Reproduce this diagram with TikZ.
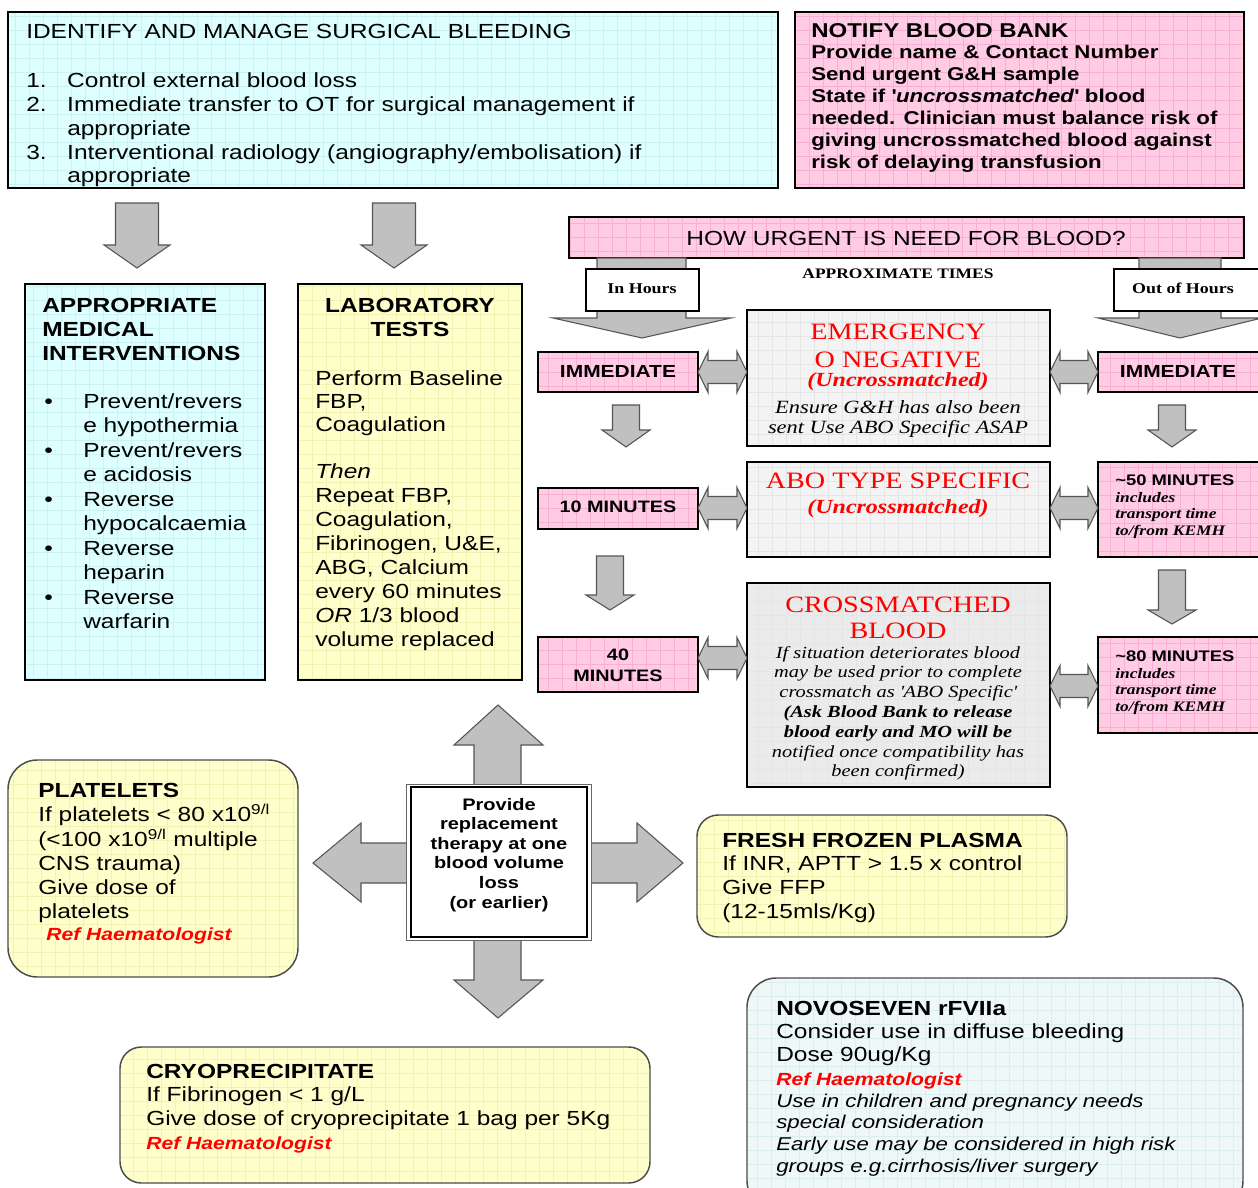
\documentclass[tikz,border=0pt]{standalone}
\usepackage{fontspec}
\setmainfont{Liberation Sans}[FakeStretch=1.2]
\newfontfamily\serif{Liberation Serif}[FakeStretch=1.2]
\usetikzlibrary{calc}
\definecolor{cyanf}{HTML}{DDFFFF}\definecolor{cyang}{HTML}{CBF1F1}
\definecolor{pinkf}{HTML}{FFCCE4}\definecolor{pinkg}{HTML}{F7B0D4}
\definecolor{yelf}{HTML}{FFFFCC}\definecolor{yelg}{HTML}{F2F2B4}
\definecolor{grayf}{HTML}{F3F3F3}\definecolor{grayg}{HTML}{E5E5E5}
\definecolor{gray2f}{HTML}{EBEBEB}
\definecolor{novof}{HTML}{EEF8F8}\definecolor{novog}{HTML}{DCEDED}
\definecolor{arrf}{HTML}{C0C0C0}\definecolor{arrd}{HTML}{555555}
\definecolor{rd}{HTML}{FF0000}
\newcommand\fs[2]{\fontsize{#1pt}{#2pt}\selectfont}
\newcommand\tl[1]{\begin{tabular}[t]{@{}l@{}}#1\end{tabular}}
\newcommand\tc[1]{\begin{tabular}[t]{@{}c@{}}#1\end{tabular}}
\newcommand\pbox[6]{\node[#6, minimum width={(#4-#2)*0.75pt}, minimum height={(#5-#3)*0.75pt}] (#1) at ({(#2+#4)/2},{(#3+#5)/2}) {};}
\newcommand\dnarrow[6]{\draw[blk] ({#1-#5},#2) -- ({#1-#5},#3) -- ({#1-#6},#3) -- (#1,#4) -- ({#1+#6},#3) -- ({#1+#5},#3) -- ({#1+#5},#2) -- cycle;}
\newcommand\dblarrow[3]{%
  \coordinate (da) at (#1.east |- 0,#3);
  \coordinate (db) at (#2.west |- 0,#3);
  \draw[blk] (da) -- ++(10,-20.5) -- ++(0,9) -- ($(db)+(-10,-11.5)$) -- ++(0,-9) -- (db) -- ++(-10,20.5) -- ++(0,-9) -- ($(da)+(10,11.5)$) -- ++(0,9) -- cycle;}
\tikzset{
  gridded/.style={path picture={\draw[#1, line width=0.4pt] ([shift={(-30pt,-30pt)}]path picture bounding box.south west) grid[step=10.5pt] ([shift={(30pt,30pt)}]path picture bounding box.north east);}},
  sq/.style={rectangle, draw=black, line width=1.1pt, inner sep=0pt, outer sep=0pt},
  cyanbox/.style={sq, fill=cyanf, gridded=cyang},
  pinkbox/.style={sq, fill=pinkf, gridded=pinkg},
  yelbox/.style={sq, fill=yelf, gridded=yelg},
  graybox/.style={sq, fill=grayf, gridded=grayg},
  gray2box/.style={sq, fill=gray2f, gridded=grayg},
  whitebox/.style={sq, fill=white},
  rbox/.style={rectangle, draw=black!70, line width=1.1pt, inner sep=0pt, outer sep=0pt},
  ryel/.style={rbox, fill=yelf, gridded=yelg, rounded corners=#1},
  rnovo/.style={rbox, fill=novof, gridded=novog, rounded corners=22pt},
  blk/.style={fill=arrf, draw=arrd, line width=0.8pt, line join=miter},
  txt/.style={inner sep=0pt, anchor=base west},
  ctxt/.style={inner sep=0pt, anchor=base},
}
\begin{document}
\begin{tikzpicture}[x=0.75pt, y=-0.75pt]
\useasboundingbox (0,0) rectangle (1258,1188);
\clip (0,0) rectangle (1258,1188);
\fill[white] (0,0) rectangle (1258,1188);

% top boxes
\pbox{b1}{8}{12}{778}{188}{cyanbox}
\pbox{b2}{795}{12}{1244}{188}{pinkbox}
% arrows from b1
\dnarrow{137}{203}{245}{268}{21.5}{33}
\dnarrow{394}{203}{245}{268}{21.5}{33}
% left boxes
\pbox{b3}{25}{284}{265}{680}{cyanbox}
\pbox{b4}{298}{284}{522}{680}{yelbox}

% urgency bar and hours arrows
\pbox{bar}{569}{217}{1244}{258}{pinkbox}
\draw[blk] (597,258) -- (597,318) -- (553,318) -- (642,338) -- (731,318) -- (686,318) -- (686,258) -- cycle;
\draw[blk] (1139,258) -- (1139,318) -- (1098,318) -- (1180,338) -- (1262,318) -- (1221,318) -- (1221,258) -- cycle;
\pbox{inh}{586}{269}{699}{311}{whitebox}
\pbox{outh}{1114}{269}{1262}{311}{whitebox}

% time boxes
\pbox{imm1}{538}{352}{698}{392}{pinkbox}
\pbox{emerg}{747}{310}{1050}{446}{graybox}
\pbox{imm2}{1098}{352}{1262}{392}{pinkbox}
\pbox{min10}{538}{488}{698}{529}{pinkbox}
\pbox{abo}{747}{462}{1050}{557}{graybox}
\pbox{min50}{1098}{462}{1262}{557}{pinkbox}
\pbox{min40}{538}{637}{698}{692}{pinkbox}
\pbox{cross}{747}{583}{1050}{787}{gray2box}
\pbox{min80}{1098}{637}{1262}{733}{pinkbox}

\dblarrow{imm1}{emerg}{372}
\dblarrow{emerg}{imm2}{372}
\dblarrow{min10}{abo}{508}
\dblarrow{abo}{min50}{508}
\dblarrow{min40}{cross}{658}
\dblarrow{cross}{min80}{686}

\dnarrow{626}{405}{430}{447}{13.5}{24}
\dnarrow{610}{556}{595}{610}{13.5}{24}
\dnarrow{1172}{405}{430}{447}{13.5}{24}
\dnarrow{1172}{570}{610}{624}{13.5}{24}

% centre four-way arrow
\draw[blk] (474,800) -- (474,745) -- (454,745) -- (498,705) -- (543,745) -- (521,745) -- (521,800) -- cycle;
\draw[blk] (474,920) -- (474,980) -- (454,980) -- (498,1018) -- (543,980) -- (521,980) -- (521,920) -- cycle;
\draw[blk] (430,843) -- (361,843) -- (361,823) -- (313,863) -- (361,902) -- (361,883) -- (430,883) -- cycle;
\draw[blk] (570,843) -- (637,843) -- (637,823) -- (683,863) -- (637,902) -- (637,883) -- (570,883) -- cycle;
\pbox{cboxo}{406}{784}{591}{940}{rectangle, draw=black!60, line width=0.6pt, fill=white, inner sep=0pt, outer sep=0pt}
\pbox{cbox}{411}{787}{587}{937}{rectangle, draw=black, line width=1.8pt, inner sep=0pt, outer sep=0pt}

% rounded boxes
\pbox{plt}{8}{760}{298}{977}{ryel=22pt}
\pbox{ffp}{697}{815}{1067}{937}{ryel=16pt}
\pbox{novo}{747}{978}{1243}{1210}{rnovo}
\pbox{cryo}{120}{1047}{650}{1183}{ryel=16pt}

% ---- texts ----
\node[txt, font=\fs{15.3}{18}] (t1) at (26,39) {IDENTIFY AND MANAGE SURGICAL BLEEDING};
\node[txt, font=\fs{15.3}{17.8}] (t1l) at (26,88) {\begin{tabular}[t]{@{}p{30.75pt}@{}l@{}}1. & Control external blood loss\\ 2. & Immediate transfer to OT for surgical management if\\ & appropriate\\ 3. & Interventional radiology (angiography/embolisation) if\\ & appropriate\end{tabular}};

\node[txt, font=\bfseries\fs{15}{18}] (t2) at (811,38) {NOTIFY BLOOD BANK};
\node[txt, font=\bfseries\fs{13.9}{16.4}] (t2b) at (811,59) {\tl{Provide name \& Contact Number\\ Send urgent G\&H sample\\ State if \textquotesingle\textit{uncrossmatched}\textquotesingle{} blood\\ needed. Clinician must balance risk of\\ giving uncrossmatched blood against\\ risk of delaying transfusion}};

\node[txt, font=\bfseries\fs{15.3}{18}] (t3) at (42,312) {\tl{APPROPRIATE\\MEDICAL\\INTERVENTIONS}};
\node[txt, font=\fs{15.3}{18.4}] (t3b) at (44,408) {\begin{tabular}[t]{@{}p{29.25pt}@{}l@{}}\textbullet & Prevent/revers\\ & e hypothermia\\ \textbullet & Prevent/revers\\ & e acidosis\\ \textbullet & Reverse\\ & hypocalcaemia\\ \textbullet & Reverse\\ & heparin\\ \textbullet & Reverse\\ & warfarin\end{tabular}};

\node[ctxt, font=\bfseries\fs{15.3}{18}] (t4) at (410,312) {\tc{LABORATORY\\TESTS}};
\node[txt, font=\fs{15.3}{17.6}] (t4a) at (315,385) {\tl{Perform Baseline\\FBP,\\Coagulation}};
\node[txt, font=\fs{15.3}{18}] (t4b) at (315,478) {\tl{\textit{Then}\\Repeat FBP,\\Coagulation,\\Fibrinogen, U\&E,\\ABG, Calcium\\every 60 minutes\\\textit{OR} 1/3 blood\\volume replaced}};

\node[ctxt, font=\fs{15.3}{18}] (tq) at (906,245) {HOW URGENT IS NEED FOR BLOOD?};
\node[ctxt, font=\serif\bfseries\fs{10.9}{13}] (tat) at (898,278) {APPROXIMATE TIMES};
\node[ctxt, font=\serif\bfseries\fs{11.2}{13}] (tih) at (642,293) {In Hours};
\node[ctxt, font=\serif\bfseries\fs{11.2}{13}] (toh) at (1183,293) {Out of Hours};

\node[ctxt, font=\bfseries\fs{13.1}{15}] (ti1) at (618,377) {IMMEDIATE};
\node[ctxt, font=\bfseries\fs{13.1}{15}] (ti2) at (1178,377) {IMMEDIATE};
\node[ctxt, text=rd, font=\serif\fs{17.6}{21}] (te) at (898,339) {\tc{EMERGENCY\\O NEGATIVE}};
\node[ctxt, text=rd, font=\serif\bfseries\itshape\fs{15}{18}] (teu) at (898,386) {(Uncrossmatched)};
\node[ctxt, font=\serif\itshape\fs{14}{15}] (tee) at (898,413) {\tc{Ensure G\&H has also been\\sent Use ABO Specific ASAP}};

\node[ctxt, font=\bfseries\fs{12.4}{15}] (tm10) at (618,512) {10 MINUTES};
\node[ctxt, text=rd, font=\serif\fs{17.6}{21}] (tabo) at (898,488) {ABO TYPE SPECIFIC};
\node[ctxt, text=rd, font=\serif\bfseries\itshape\fs{15}{18}] (tabou) at (898,513) {(Uncrossmatched)};
\node[txt, font=\bfseries\fs{11.5}{13}] (tm50) at (1115,485) {\textasciitilde 50 MINUTES};
\node[txt, font=\serif\bfseries\itshape\fs{10.9}{12.4}] (tm50b) at (1115,502) {\tl{includes\\transport time\\to/from KEMH}};

\node[ctxt, font=\bfseries\fs{12.4}{15.75}] (tm40) at (618,660) {\tc{40\\MINUTES}};
\node[ctxt, text=rd, font=\serif\fs{17.6}{19.5}] (tcr) at (898,612) {\tc{CROSSMATCHED\\BLOOD}};
\node[ctxt, font=\serif\itshape\fs{12.75}{14.85}] (tcrb) at (898,658) {\tc{If situation deteriorates blood\\may be used prior to complete\\crossmatch as \textquotesingle ABO Specific\textquotesingle\\\textbf{(Ask Blood Bank to release}\\\textbf{blood early and MO will be}\\notified once compatibility has\\been confirmed)}};
\node[txt, font=\bfseries\fs{11.5}{13}] (tm80) at (1115,661) {\textasciitilde 80 MINUTES};
\node[txt, font=\serif\bfseries\itshape\fs{10.9}{12.4}] (tm80b) at (1115,678) {\tl{includes\\transport time\\to/from KEMH}};

\node[ctxt, font=\bfseries\fs{12.5}{14.7}] (tc) at (499,810) {\tc{Provide\\replacement\\therapy at one\\blood volume\\loss\\(or earlier)}};

\node[txt, font=\fs{15.3}{18}] (tp) at (38,797) {\tl{\textbf{PLATELETS}\\If platelets < 80 x10\textsuperscript{9/l}\\(<100 x10\textsuperscript{9/l} multiple\\CNS trauma)\\Give dose of\\platelets}};
\node[txt, text=rd, font=\bfseries\itshape\fs{13.2}{16}] (tpr) at (46,940) {Ref Haematologist};

\node[txt, font=\fs{15.3}{17.8}] (tf) at (722,847) {\tl{\textbf{FRESH FROZEN PLASMA}\\If INR, APTT > 1.5 x control\\Give FFP\\(12-15mls/Kg)}};

\node[txt, font=\fs{15.3}{17.6}] (tn) at (776,1015) {\tl{\textbf{NOVOSEVEN rFVIIa}\\Consider use in diffuse bleeding\\Dose 90ug/Kg}};
\node[txt, text=rd, font=\bfseries\itshape\fs{13.2}{16}] (tnr) at (776,1085) {Ref Haematologist};
\node[txt, font=\itshape\fs{13.9}{16.3}] (tni) at (776,1107) {\tl{Use in children and pregnancy needs\\special consideration\\Early use may be considered in high risk\\groups e.g.cirrhosis/liver surgery}};

\node[txt, font=\fs{15.3}{17.8}] (tcy) at (146,1078) {\tl{\textbf{CRYOPRECIPITATE}\\If Fibrinogen < 1 g/L\\Give dose of cryoprecipitate 1 bag per 5Kg}};
\node[txt, text=rd, font=\bfseries\itshape\fs{13.2}{16}] (tcyr) at (146,1149) {Ref Haematologist};
\end{tikzpicture}
\end{document}
